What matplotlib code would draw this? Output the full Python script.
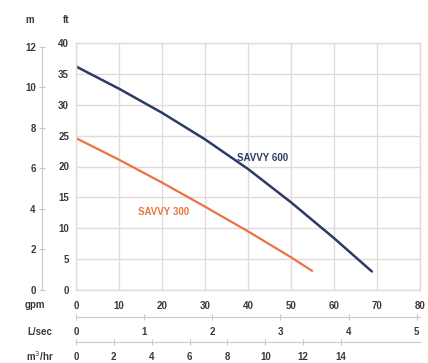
import matplotlib
matplotlib.use("Agg")
import matplotlib.pyplot as plt
import numpy as np

# Data (gpm vs head in ft)
savvy600_gpm = [0, 10, 20, 30, 40, 50, 60, 68.8]
savvy600_ft = [36.2, 32.6, 28.7, 24.4, 19.6, 14.2, 8.4, 3.0]
savvy300_gpm = [0, 10, 20, 30, 40, 50, 54.9]
savvy300_ft = [24.6, 21.1, 17.4, 13.5, 9.5, 5.3, 3.1]

gpm_ticks = [0, 10, 20, 30, 40, 50, 60, 70, 80]
ft_ticks = [0, 5, 10, 15, 20, 25, 30, 35, 40]
m_ticks = [0, 2, 4, 6, 8, 10, 12]
lsec_ticks = [0, 1, 2, 3, 4, 5]
m3hr_ticks = [0, 2, 4, 6, 8, 10, 12, 14]

W, H = 428, 363
plt.rcParams['font.family'] = ['Liberation Sans', 'DejaVu Sans']
fig = plt.figure(figsize=(W / 100, H / 100), dpi=100)

def fx(px):
    return px / W

def fy(py):
    return 1 - py / H

txt_color = '#3a3a3a'
grid_color = '#e2dada'
fs = 7

x0, x1 = 76, 420
y_top, y_bot = 43, 290
ax = fig.add_axes([fx(x0), fy(y_bot), fx(x1 - x0), (y_bot - y_top) / H])
ax.set_xlim(0, 80)
ax.set_ylim(0, 40)
ax.set_xticks(gpm_ticks)
ax.set_yticks(ft_ticks)
ax.grid(True, color=grid_color, lw=1.0)
for s in ax.spines.values():
    s.set_color(grid_color)
    s.set_linewidth(1.0)
ax.tick_params(length=0, labelsize=fs, colors=txt_color)
ax.tick_params(axis='x', pad=8)
ax.tick_params(axis='y', pad=5)
for lab in ax.get_xticklabels() + ax.get_yticklabels():
    lab.set_fontweight('bold')

ax.plot(savvy600_gpm, savvy600_ft, color='#2e3a66', lw=1.8, solid_capstyle='round', solid_joinstyle='round')
ax.plot(savvy300_gpm, savvy300_ft, color='#ea7440', lw=1.6, solid_capstyle='round', solid_joinstyle='round')
ax.text(37.5, 21.4, 'SAVVY 600', color='#2e3a66', fontsize=fs, fontweight='bold', va='center', ha='left')
ax.text(14.4, 12.6, 'SAVVY 300', color='#ea7440', fontsize=fs, fontweight='bold', va='center', ha='left')

# m axis
axm = fig.add_axes([fx(42), fy(y_bot), 0.001, (y_bot - y_top) / H])
axm.set_ylim(0, 40 / 3.28084)
axm.set_xticks([])
axm.set_yticks(m_ticks)
for k in ['top', 'right', 'bottom']:
    axm.spines[k].set_visible(False)
axm.spines['left'].set_bounds(0, 12)
axm.spines['left'].set_color('#cfc6c6')
axm.tick_params(axis='y', direction='inout', length=5, color='#cfc6c6', labelsize=fs,
                labelcolor=txt_color, pad=2)
for lab in axm.get_yticklabels():
    lab.set_fontweight('bold')
axm.patch.set_visible(False)

def bottom_axis(ypx, lim, ticks):
    a = fig.add_axes([fx(x0), fy(ypx), fx(x1 - x0), 0.001])
    a.set_xlim(0, lim)
    a.set_yticks([])
    a.set_xticks(ticks)
    for k in ['top', 'right', 'left']:
        a.spines[k].set_visible(False)
    a.spines['bottom'].set_color('#cfc6c6')
    a.tick_params(axis='x', direction='inout', length=5, color='#cfc6c6', labelsize=fs,
                  labelcolor=txt_color, pad=5)
    for lab in a.get_xticklabels():
        lab.set_fontweight('bold')
    a.patch.set_visible(False)
    return a

bottom_axis(317, 80 / 15.8503, lsec_ticks)
bottom_axis(342, 80 / 4.40287, m3hr_ticks)

fig.text(fx(30), fy(20), 'm', fontsize=fs, fontweight='bold', color=txt_color, ha='center', va='center')
fig.text(fx(66), fy(20), 'ft', fontsize=fs, fontweight='bold', color=txt_color, ha='center', va='center')
fig.text(fx(35), fy(305), 'gpm', fontsize=fs, fontweight='bold', color=txt_color, ha='center', va='center')
fig.text(fx(40), fy(332), 'L/sec', fontsize=fs, fontweight='bold', color=txt_color, ha='center', va='center')
fig.text(fx(40), fy(356), 'm$^3$/hr', fontsize=fs, fontweight='bold', color=txt_color, ha='center', va='center')

fig.savefig('out.png', dpi=100)
